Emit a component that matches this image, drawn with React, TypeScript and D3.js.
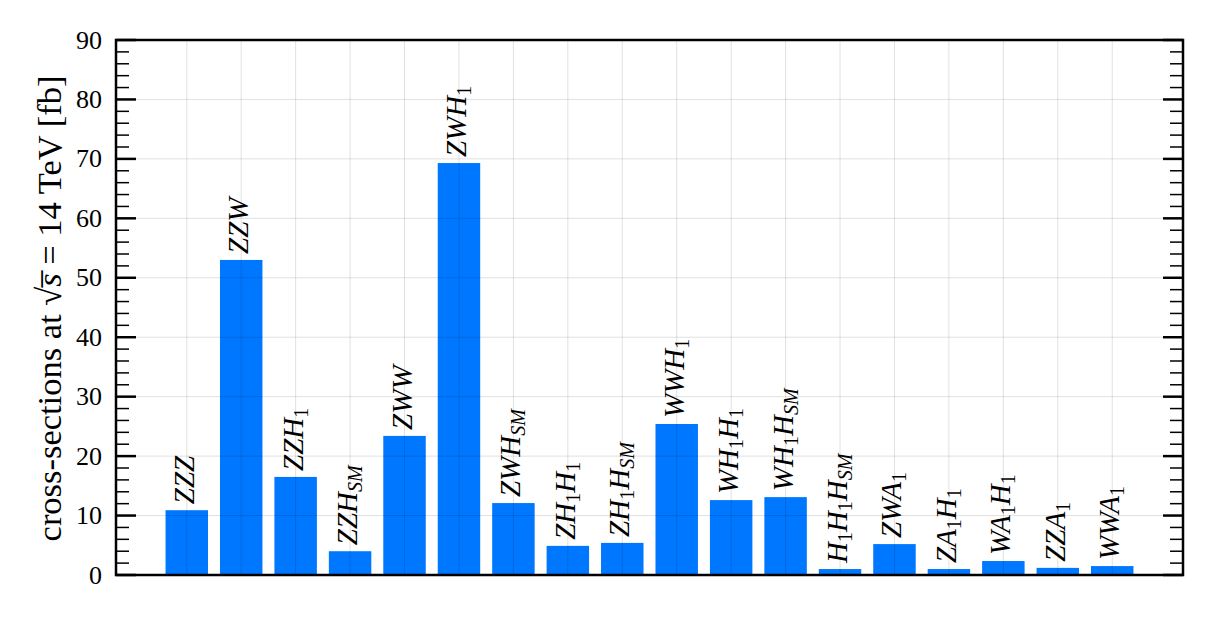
import React, { useEffect } from "react";
import * as d3 from "d3";

const categories = [
  "ZZZ", "ZZW", "ZZH_1", "ZZH_SM", "ZWW", "ZWH_1", "ZWH_SM", "ZH_1H_1", "ZH_1H_SM",
  "WWH_1", "WH_1H_1", "WH_1H_SM", "H_1H_1H_SM", "ZWA_1", "ZA_1H_1", "WA_1H_1", "ZZA_1", "WWA_1",
];
const values = [10.9, 53.0, 16.5, 4.0, 23.4, 69.3, 12.1, 4.9, 5.4, 25.4, 12.6, 13.1, 1.0, 5.2, 1.0, 2.35, 1.2, 1.5];
const yMajorTicks = [0, 10, 20, 30, 40, 50, 60, 70, 80, 90];
const yMinorTicks = d3.range(0, 91, 2).filter((v) => v % 10 !== 0);

const W = 1212, H = 621;
const M = { left: 116, right: 1183, top: 40, bottom: 575 };
const BAR_COLOR = "#0077ff";
const FONT = "Liberation Serif";

function parseLabel(s: string) {
  const parts: { text: string; sub: boolean }[] = [];
  let i = 0;
  let cur = "";
  while (i < s.length) {
    if (s[i] === "_") {
      if (cur) parts.push({ text: cur, sub: false });
      cur = "";
      i++;
      let sub = "";
      if (s.slice(i, i + 2) === "SM") { sub = "SM"; i += 2; }
      else { sub = s[i]; i++; }
      parts.push({ text: sub, sub: true });
    } else {
      cur += s[i];
      i++;
    }
  }
  if (cur) parts.push({ text: cur, sub: false });
  return parts;
}

export default function App() {
  useEffect(() => {
    document.body.style.margin = "0";
  }, []);
  const x = d3.scaleLinear().domain([-1.3, 18.3]).range([M.left, M.right]);
  const y = d3.scaleLinear().domain([0, 90]).range([M.bottom, M.top]);
  const bw = (x(1) - x(0)) * 0.78;

  return (
    <svg width={W} height={H}>
      {values.map((v, i) => (
        <rect key={"b" + i} x={x(i) - bw / 2} y={y(v)} width={bw} height={y(0) - y(v)} fill={BAR_COLOR} />
      ))}
      <g stroke="#000" strokeOpacity={0.12} strokeWidth={1}>
        {yMajorTicks.map((t) => (
          <line key={"gy" + t} x1={M.left} x2={M.right} y1={y(t)} y2={y(t)} />
        ))}
        {categories.map((c, i) => (
          <line key={"gx" + i} x1={x(i)} x2={x(i)} y1={M.top} y2={M.bottom} />
        ))}
      </g>
      {categories.map((c, i) => {
        const parts = parseLabel(c);
        return (
          <text
            key={"l" + i}
            transform={`translate(${x(i) + 7},${y(values[i]) - 6}) rotate(-90)`}
            fontFamily={FONT}
            fontSize={29}
          >
            {parts.map((p, k) =>
              p.sub ? (
                <tspan key={k} fontSize={20} fontStyle={p.text === "SM" ? "italic" : "normal"} dy={5}>{p.text}</tspan>
              ) : (
                <tspan key={k} fontStyle="italic" dy={k > 0 && parts[k - 1].sub ? -5 : 0}>{p.text}</tspan>
              )
            )}
          </text>
        );
      })}
      <g stroke="#000">
        {yMajorTicks.map((t) => (
          <g key={"mt" + t}>
            <line x1={M.left} x2={M.left + 20} y1={y(t)} y2={y(t)} strokeWidth={2.5} />
            <line x1={M.right} x2={M.right - 20} y1={y(t)} y2={y(t)} strokeWidth={2.5} />
          </g>
        ))}
        {yMinorTicks.map((t) => (
          <g key={"nt" + t}>
            <line x1={M.left} x2={M.left + 13} y1={y(t)} y2={y(t)} strokeWidth={1.5} />
            <line x1={M.right} x2={M.right - 13} y1={y(t)} y2={y(t)} strokeWidth={1.5} />
          </g>
        ))}
      </g>
      <rect x={M.left} y={M.top} width={M.right - M.left} height={M.bottom - M.top} fill="none" stroke="#000" strokeWidth={2.5} />
      {yMajorTicks.map((t) => (
        <text key={"yl" + t} x={M.left - 14} y={y(t) + 8.6} textAnchor="end" fontFamily={FONT} fontSize={26}>
          {t}
        </text>
      ))}
      <text
        transform={`translate(61,${(M.top + M.bottom) / 2 + 1}) rotate(-90)`}
        textAnchor="middle"
        fontFamily={FONT}
        fontSize={34.5}
      >
        cross-sections at √<tspan fontStyle="italic">{"s\u0305"}</tspan> = 14 TeV [fb]
      </text>
    </svg>
  );
}
